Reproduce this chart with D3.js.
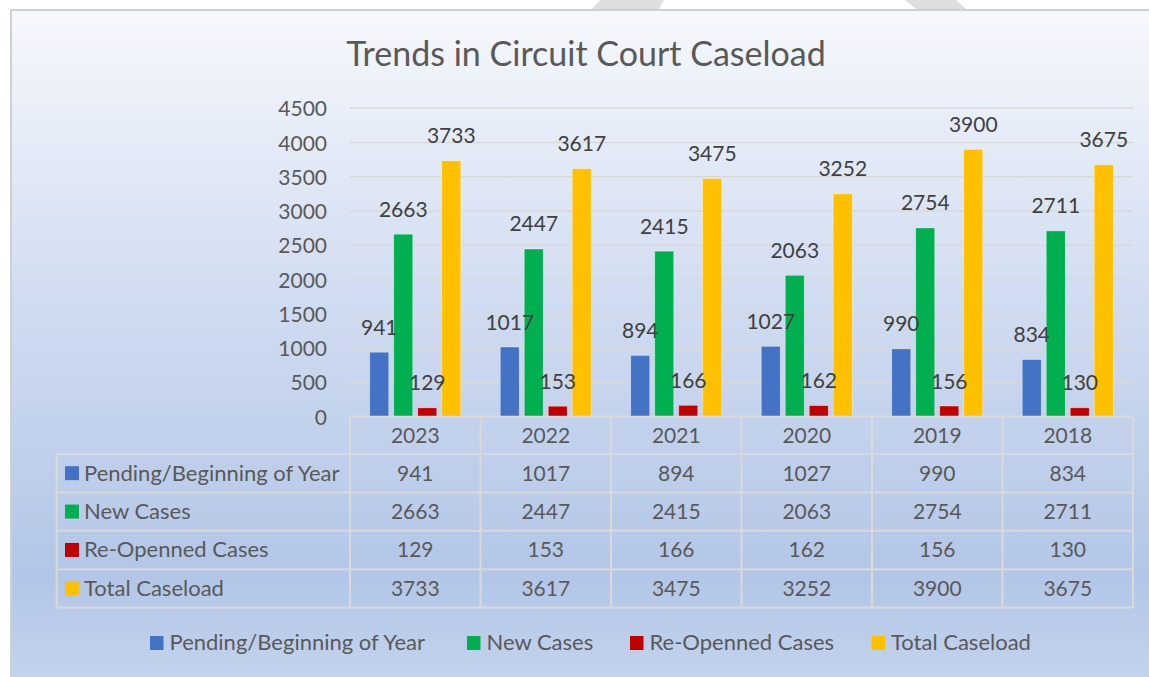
<!DOCTYPE html>
<html>
<head>
<meta charset="utf-8">
<script src="https://cdn.jsdelivr.net/npm/d3@7"></script>
<style>
  body { margin: 0; background: #fff; }
  #frame {
    position: absolute; left: 10px; top: 9px; width: 1139px; height: 668px;
    box-sizing: border-box;
    border-left: 2px solid #d0d0d0; border-top: 2px solid #d0d0d0;
    background: linear-gradient(to bottom, #f6f8fc 0%, #cfdbf0 45%, #b3c6e7 85%, #c3d3ed 100%);
  }
  #chart { position: absolute; left: 0; top: 0; }
  svg { display: block; font-family: Lato, "Open Sans", sans-serif; }
</style>
</head>
<body>
<div id="frame"></div>
<div id="chart"></div>
<script>
// chart data
const years = ["2023", "2022", "2021", "2020", "2019", "2018"];
const seriesNames = ["Pending/Beginning of Year", "New Cases", "Re-Openned Cases", "Total Caseload"];
const pending = [941, 1017, 894, 1027, 990, 834];
const newCases = [2663, 2447, 2415, 2063, 2754, 2711];
const reopened = [129, 153, 166, 162, 156, 130];
const totalCaseload = [3733, 3617, 3475, 3252, 3900, 3675];
const yTickValues = [0, 500, 1000, 1500, 2000, 2500, 3000, 3500, 4000, 4500];
const colors = ["#4472c4", "#00b050", "#c00000", "#ffc000"];

const seriesValues = [pending, newCases, reopened, totalCaseload];

// size of the page
const width = 1149;
const height = 677;
const plot = {left: 350, right: 1133, top: 108.3, bottom: 416.7};
const tableLeft = 56.7;
const textColor = "#595959";
const gridColor = "#d9d9d9";

const svg = d3.select("#chart")
  .append("svg")
  .attr("width", width)
  .attr("height", height)
  .attr("viewBox", [0, 0, width, height]);

// grey shapes peeking above the frame
svg.append("polygon")
  .attr("points", "600,0 664,0 659,9 592,9")
  .attr("fill", "#dedede");
svg.append("polygon")
  .attr("points", "905,0 956,0 966,9 916,9")
  .attr("fill", "#dedede");

// title
svg.append("text")
  .attr("x", 586)
  .attr("y", 66)
  .attr("text-anchor", "middle")
  .attr("font-size", "34px")
  .attr("fill", textColor)
  .text("Trends in Circuit Court Caseload");

/*
  Scales
*/
const yScale = d3.scaleLinear()
  .domain([0, 4500])
  .range([plot.bottom, plot.top]);

const xScale = d3.scaleBand()
  .domain(years)
  .range([plot.left, plot.right])
  .padding(0);

const innerWidth = 91;
const xInner = d3.scaleBand()
  .domain(seriesNames)
  .range([(xScale.bandwidth() - innerWidth) / 2, (xScale.bandwidth() + innerWidth) / 2])
  .paddingInner(5 / 24)
  .paddingOuter(0);

// gridlines
svg.append("g")
  .selectAll("line")
  .data(yTickValues.slice(1))
  .join("line")
    .attr("x1", plot.left)
    .attr("x2", plot.right)
    .attr("y1", d => yScale(d))
    .attr("y2", d => yScale(d))
    .attr("stroke", gridColor)
    .attr("stroke-width", 1.5);

// y axis labels (no axis line)
const yAxis = svg.append("g")
  .attr("transform", `translate(${plot.left - 23}, 0)`)
  .call(d3.axisLeft(yScale)
    .tickValues(yTickValues)
    .tickFormat(d3.format("d"))
    .tickSize(0)
    .tickPadding(0));
yAxis.select(".domain").remove();
yAxis.selectAll("text")
  .attr("font-family", "Lato, sans-serif")
  .attr("font-size", "21px")
  .attr("fill", textColor)
  .attr("dy", "0.36em");

/*
  Bars
*/
const barData = [];
years.forEach((yr, i) => {
  seriesNames.forEach((s, j) => {
    barData.push({year: yr, series: s, value: seriesValues[j][i], color: colors[j]});
  });
});

svg.append("g")
  .selectAll("rect")
  .data(barData)
  .join("rect")
    .attr("x", d => xScale(d.year) + xInner(d.series))
    .attr("y", d => yScale(d.value))
    .attr("width", xInner.bandwidth())
    .attr("height", d => yScale(0) - yScale(d.value))
    .attr("fill", d => d.color)
    .attr("stroke", "rgba(255,255,255,0.45)")
    .attr("stroke-width", 0.75);

// value labels above bars
svg.append("g")
  .selectAll("text")
  .data(barData)
  .join("text")
    .attr("x", d => xScale(d.year) + xInner(d.series) + xInner.bandwidth() / 2)
    .attr("y", d => yScale(d.value) - 17.5)
    .attr("text-anchor", "middle")
    .attr("font-size", "21px")
    .attr("fill", "#404040")
    .text(d => d.value);

/*
  Data table under the plot
*/
const headerTop = plot.bottom;
const rowScale = d3.scaleBand()
  .domain(seriesNames)
  .range([454, 607.5]);

const table = svg.append("g");

// horizontal lines
table.append("line")
  .attr("x1", plot.left).attr("x2", plot.right)
  .attr("y1", headerTop).attr("y2", headerTop);
seriesNames.forEach(s => {
  table.append("line")
    .attr("x1", tableLeft).attr("x2", plot.right)
    .attr("y1", rowScale(s)).attr("y2", rowScale(s));
});
table.append("line")
  .attr("x1", tableLeft).attr("x2", plot.right)
  .attr("y1", 607.5).attr("y2", 607.5);

// vertical lines
const colEdges = years.map(y => xScale(y)).concat([plot.right]);
colEdges.forEach(x => {
  table.append("line")
    .attr("x1", x).attr("x2", x)
    .attr("y1", headerTop).attr("y2", 607.5);
});
table.append("line")
  .attr("x1", tableLeft).attr("x2", tableLeft)
  .attr("y1", rowScale(seriesNames[0])).attr("y2", 607.5);

table.selectAll("line")
  .attr("stroke", gridColor)
  .attr("stroke-width", 2);

// year headers
table.append("g")
  .selectAll("text")
  .data(years)
  .join("text")
    .attr("x", d => xScale(d) + xScale.bandwidth() / 2)
    .attr("y", 443)
    .attr("text-anchor", "middle")
    .attr("font-size", "21px")
    .attr("fill", textColor)
    .text(d => d);

// series rows: key, name and values
seriesNames.forEach((s, j) => {
  const rowMid = rowScale(s) + rowScale.bandwidth() / 2;
  table.append("rect")
    .attr("x", 65)
    .attr("y", rowMid - 7)
    .attr("width", 14)
    .attr("height", 14)
    .attr("fill", colors[j]);
  table.append("text")
    .attr("x", 84)
    .attr("y", rowMid + 7.5)
    .attr("font-size", "22px")
    .attr("fill", textColor)
    .text(s);
  table.append("g")
    .selectAll("text")
    .data(seriesValues[j])
    .join("text")
      .attr("x", (d, i) => xScale(years[i]) + xScale.bandwidth() / 2)
      .attr("y", rowMid + 7.5)
      .attr("text-anchor", "middle")
      .attr("font-size", "21px")
      .attr("fill", textColor)
      .text(d => d);
});

/*
  Legend at the bottom
*/
const legendX = [150, 467, 630, 871.5];
const legend = svg.append("g");
seriesNames.forEach((s, j) => {
  legend.append("rect")
    .attr("x", legendX[j])
    .attr("y", 636)
    .attr("width", 13.5)
    .attr("height", 14)
    .attr("fill", colors[j]);
  legend.append("text")
    .attr("x", legendX[j] + 19.5)
    .attr("y", 650)
    .attr("font-size", "22px")
    .attr("fill", textColor)
    .text(s);
});
</script>
</body>
</html>
